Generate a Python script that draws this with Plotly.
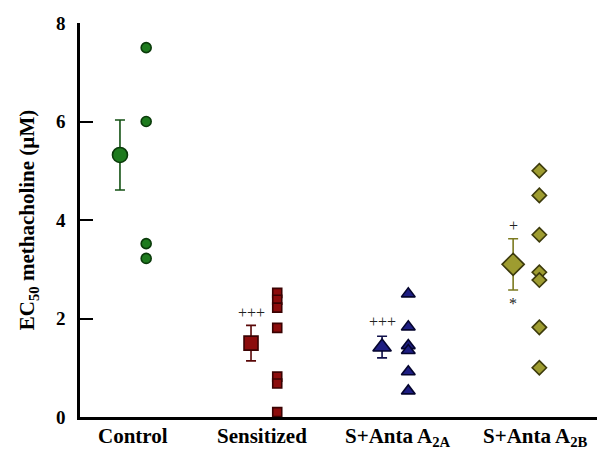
import plotly.graph_objects as go

# Groups and their EC50 values (µM)
groups = ["Control", "Sensitized", "S+Anta A<sub>2A</sub>", "S+Anta A<sub>2B</sub>"]
control_vals = [7.5, 6.0, 3.52, 3.22]
sensitized_vals = [2.52, 2.38, 2.22, 1.81, 0.82, 0.68, 0.1]
anta_2a_vals = [2.5, 1.83, 1.45, 1.35, 0.92, 0.53]
anta_2b_vals = [5.0, 4.5, 3.7, 2.94, 2.78, 1.82, 1.0]

# Group means and SEM
means = [5.32, 1.5, 1.42, 3.1]
sems = [0.71, 0.36, 0.22, 0.52]

# Significance marks (text, group index, y value)
sig_text = ["+++", "+++", "+", "*"]
sig_group = [1, 2, 3, 3]
sig_y = [2.12, 1.93, 3.88, 2.3]

SERIF = "Times New Roman, Liberation Serif, serif"

fill_colors = ["#1e7b1e", "#8c0c0c", "#1e1e82", "#9e9c30"]
edge_colors = ["#0a3a0a", "#3a0202", "#05052e", "#3c3a0c"]
bar_colors = ["#145214", "#5a0808", "#10104a", "#7c7a20"]
symbols = ["circle", "square", "triangle-up", "diamond"]
point_sizes = [10, 9, 12, 11]
mean_sizes = [15, 14, 16, 17]

all_vals = [control_vals, sensitized_vals, anta_2a_vals, anta_2b_vals]
centers = [1, 2, 3, 4]
label_x = [1.0, 1.985, 3.02, 4.07]
mean_offset = -0.1
point_offset = 0.1

fig = go.Figure()

for i, vals in enumerate(all_vals):
    # individual animals
    fig.add_trace(go.Scatter(
        x=[centers[i] + point_offset] * len(vals), y=vals, mode="markers",
        marker=dict(symbol=symbols[i], size=point_sizes[i], color=fill_colors[i],
                    line=dict(color=edge_colors[i], width=1.6)),
        showlegend=False, cliponaxis=False))
    # group mean ± SEM
    fig.add_trace(go.Scatter(
        x=[centers[i] + mean_offset], y=[means[i]], mode="markers",
        marker=dict(symbol=symbols[i], size=mean_sizes[i], color=fill_colors[i],
                    line=dict(color=edge_colors[i], width=1.6)),
        error_y=dict(type="data", array=[sems[i]], color=bar_colors[i],
                     thickness=1.6, width=5),
        showlegend=False, cliponaxis=False))

annotations = []
for t, g, yv in zip(sig_text, sig_group, sig_y):
    annotations.append(dict(
        x=centers[g] + mean_offset, y=yv, text=t, showarrow=False,
        font=dict(family=SERIF, size=16, color="#222222"),
        xanchor="center", yanchor="middle"))

# group names under the x axis
for lx, g in zip(label_x, groups):
    annotations.append(dict(
        x=lx, y=0, xref="x", yref="paper", text="<b>" + g + "</b>",
        showarrow=False, xanchor="center", yanchor="top", yshift=-5,
        font=dict(family=SERIF, size=21, color="black")))

fig.update_layout(
    width=597, height=452,
    margin=dict(l=80, r=0, t=23, b=35),
    paper_bgcolor="white", plot_bgcolor="white",
    font=dict(family=SERIF, color="black"),
    annotations=annotations,
    xaxis=dict(
        range=[0.595, 4.54], showgrid=False, zeroline=False,
        showline=True, linecolor="black", linewidth=2.5,
        showticklabels=False, ticks="",
    ),
    yaxis=dict(
        range=[0, 8], showgrid=False, zeroline=False,
        showline=True, linecolor="black", linewidth=2.5,
        tickvals=[0, 2, 4, 6, 8], ticktext=["<b>%d</b>" % v for v in [0, 2, 4, 6, 8]],
        ticks="inside", ticklen=13, tickwidth=2, tickcolor="black",
        ticklabelstandoff=8,
        tickfont=dict(family=SERIF, size=19, color="black"),
        title=dict(text="<b>EC<sub>50</sub> methacholine (µM)</b>", standoff=16,
                   font=dict(family=SERIF, size=21, color="black")),
    ),
)

fig.write_html("out.html")
